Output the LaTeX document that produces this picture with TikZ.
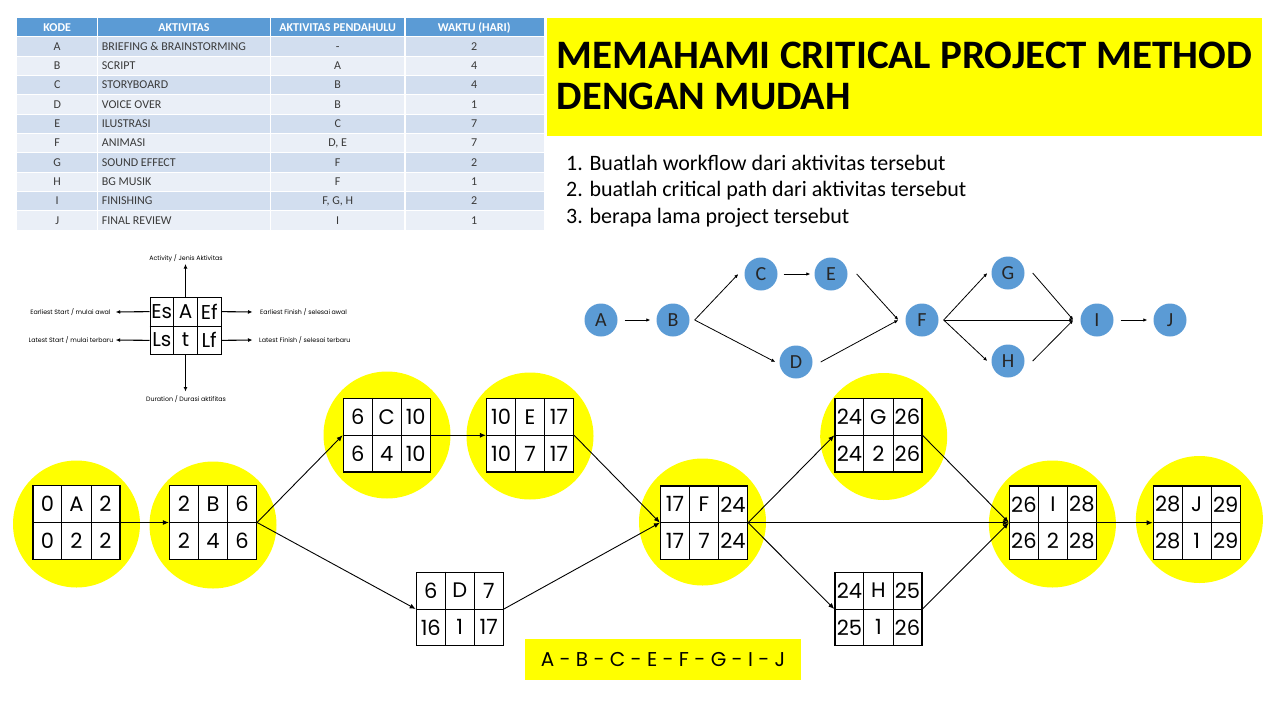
\documentclass[tikz,border=0pt]{standalone}
\usepackage{fontspec}
\setmainfont{Carlito}
\newfontfamily\pop{Poppins}
\usetikzlibrary{calc,arrows.meta}
\definecolor{hdrblue}{HTML}{5B9BD5}
\definecolor{rowa}{HTML}{D2DEEF}
\definecolor{rowb}{HTML}{EAEFF7}
\definecolor{tabtext}{HTML}{3A3A3A}
\definecolor{dotblue}{HTML}{5B9BD5}
\definecolor{hl}{HTML}{FFFF00}
\tikzset{
  yellowdot/.style={circle, fill=hl, minimum size=127pt, inner sep=0pt},
  cpmframe/.style={draw=black, fill=white, line width=1.2pt, minimum width=87pt, minimum height=73.5pt, inner sep=0pt},
  cpmgrid/.style={draw=black, line width=1pt},
  cpmtext/.style={font=\pop\fontsize{21}{21}\selectfont, inner sep=0pt},
  flow/.style={draw=black, line width=0.9pt, -{Latex[length=6pt,width=5pt]}},
  blob/.style={circle, fill=dotblue, minimum size=33pt, inner sep=0pt, font=\fontsize{20}{20}\selectfont, text=black!85},
  smallflow/.style={draw=black, line width=0.8pt, -{Latex[length=4pt,width=3.5pt]}},
  legframe/.style={draw=black, line width=1pt, minimum width=71pt, minimum height=56.5pt, inner sep=0pt},
  legtext/.style={font=\pop\fontsize{20}{20}\selectfont, inner sep=0pt},
  leglabel/.style={font=\pop\fontsize{6.3}{7}\selectfont, inner sep=0pt},
  legarrow/.style={draw=black, line width=1.1pt, -{Latex[length=4.5pt,width=4pt]}},
  tabtxt/.style={font=\fontsize{12}{13}\selectfont, text=tabtext, inner sep=0pt, anchor=base},
  tabhead/.style={font=\bfseries\fontsize{12}{13}\selectfont, text=white, inner sep=0pt, anchor=base},
  listtxt/.style={font=\fontsize{22}{24}\selectfont, inner sep=0pt, anchor=base west},
}
\newcommand\cpmbox[8]{%
  \node[cpmframe] (#1) at (#2) {};
  \draw[cpmgrid] ($(#1.north west)!1/3!(#1.north east)$) -- ($(#1.south west)!1/3!(#1.south east)$);
  \draw[cpmgrid] ($(#1.north west)!2/3!(#1.north east)$) -- ($(#1.south west)!2/3!(#1.south east)$);
  \draw[cpmgrid] (#1.west) -- (#1.east);
  \node[cpmtext] (#1-es) at ($(#1)+(-29,-18.4)$) {#3};
  \node[cpmtext] (#1-ac) at ($(#1)+(0,-18.4)$) {#4};
  \node[cpmtext] (#1-ef) at ($(#1)+(29,-18.4)$) {#5};
  \node[cpmtext] (#1-ls) at ($(#1)+(-29,18.4)$) {#6};
  \node[cpmtext] (#1-du) at ($(#1)+(0,18.4)$) {#7};
  \node[cpmtext] (#1-lf) at ($(#1)+(29,18.4)$) {#8};
}
\begin{document}
\begin{tikzpicture}[x=1pt,y=-1pt]
\useasboundingbox[fill=white] (0,0) rectangle (1280,720);

% ---------------- table ----------------
\fill[hdrblue] (17,18.3) rectangle (543.5,36.7);
\node[tabhead] (h1) at (57.2,31.5) {KODE};
\node[tabhead] (h2) at (184,31.5) {AKTIVITAS};
\node[tabhead] (h3) at (337.7,31.5) {AKTIVITAS PENDAHULU};
\node[tabhead] (h4) at (474.2,31.5) {WAKTU (HARI)};
\foreach \k/\a/\p/\w [count=\i] in {
  A/{BRIEFING \& BRAINSTORMING}/-/2,
  B/SCRIPT/A/4,
  C/STORYBOARD/B/4,
  D/VOICE OVER/B/1,
  E/ILUSTRASI/C/7,
  F/ANIMASI/{D, E}/7,
  G/SOUND EFFECT/F/2,
  H/BG MUSIK/F/1,
  I/FINISHING/{F, G, H}/2,
  J/FINAL REVIEW/I/1}{
  \pgfmathsetmacro\rtop{36.7+(\i-1)*19.33}
  \ifodd\i\relax\def\rc{rowa}\else\def\rc{rowb}\fi
  \fill[\rc] (17,\rtop) rectangle (543.5,\rtop+19.33);
  \node[tabtxt] (r\i-k) at (57.2,\rtop+13.6) {\k};
  \node[tabtxt, anchor=base west] (r\i-a) at (101.7,\rtop+13.6) {\a};
  \node[tabtxt] (r\i-p) at (337.7,\rtop+13.6) {\p};
  \node[tabtxt] (r\i-w) at (474.2,\rtop+13.6) {\w};
}
\foreach \yy in {36.7,56.03,75.36,94.69,114.02,133.35,152.68,172.01,191.34,210.67}
  \draw[white, line width=1pt] (17,\yy) -- (543.5,\yy);
\foreach \xx in {97.5,270.5,405}
  \draw[white, line width=1.3pt] (\xx,18.3) -- (\xx,230);

% ---------------- title ----------------
\fill[hl] (546.5,18) rectangle (1262,136);
\node[anchor=base west, inner sep=0pt] (title1) at (556.7,68.3) {\resizebox{695pt}{26.5pt}{\bfseries MEMAHAMI CRITICAL PROJECT METHOD}};
\node[anchor=base west, inner sep=0pt] (title2) at (556.7,109) {\resizebox{294pt}{26.5pt}{\bfseries DENGAN MUDAH}};

\node[listtxt] (q1) at (566,170) {1. Buatlah workflow dari aktivitas tersebut};
\node[listtxt] (q2) at (566,196.7) {2. buatlah critical path dari aktivitas tersebut};
\node[listtxt] (q3) at (566,223) {3. berapa lama project tersebut};

% ---------------- legend ----------------
\node[legframe] (lg) at (185.5,326) {};
\draw[cpmgrid] ($(lg.north west)!1/3!(lg.north east)$) -- ($(lg.south west)!1/3!(lg.south east)$);
\draw[cpmgrid] ($(lg.north west)!2/3!(lg.north east)$) -- ($(lg.south west)!2/3!(lg.south east)$);
\draw[cpmgrid] (lg.west) -- (lg.east);
\node[legtext] (lg-es) at ($(lg)+(-23.7,-14)$) {Es};
\node[legtext] (lg-ac) at ($(lg)+(0,-14)$) {A};
\node[legtext] (lg-ef) at ($(lg)+(23.7,-14)$) {Ef};
\node[legtext] (lg-ls) at ($(lg)+(-23.7,14)$) {Ls};
\node[legtext] (lg-du) at ($(lg)+(0,14)$) {t};
\node[legtext] (lg-lf) at ($(lg)+(23.7,14)$) {Lf};
\coordinate (lgup) at (185.5,264);
\coordinate (lgdn) at (185.5,391.5);
\coordinate (lgl1) at (115.7,312);
\coordinate (lgl2) at (115.7,340);
\coordinate (lgr1) at (252.5,312);
\coordinate (lgr2) at (252.5,340);
\draw[legarrow] (lg.north) -- (lgup);
\draw[legarrow] (lg.south) -- (lgdn);
\draw[legarrow] ($(lg.north west)!0.25!(lg.south west)$) -- (lgl1);
\draw[legarrow] ($(lg.north west)!0.75!(lg.south west)$) -- (lgl2);
\draw[legarrow] ($(lg.north east)!0.25!(lg.south east)$) -- (lgr1);
\draw[legarrow] ($(lg.north east)!0.75!(lg.south east)$) -- (lgr2);
\node[leglabel] (lab-up) at (186,258) {Activity / Jenis Aktivitas};
\node[leglabel] (lab-dn) at (186,399.5) {Duration / Durasi aktifitas};
\node[leglabel, anchor=east] (lab-l1) at (110.7,312) {Earliest Start / mulai awal};
\node[leglabel, anchor=east] (lab-l2) at (113.5,340) {Latest Start / mulai terbaru};
\node[leglabel, anchor=west] (lab-r1) at (260,312) {Earliest Finish / selesai awal};
\node[leglabel, anchor=west] (lab-r2) at (259,340) {Latest Finish / selesai terbaru};

% ---------------- top workflow ----------------
\node[blob] (nA) at (601,320) {A};
\node[blob] (nB) at (673,320) {B};
\node[blob] (nC) at (761,274) {C};
\node[blob] (nE) at (831,274) {E};
\node[blob] (nD) at (796,362) {D};
\node[blob] (nF) at (922,320) {F};
\node[blob] (nG) at (1008,273) {G};
\node[blob] (nH) at (1008,361) {H};
\node[blob] (nI) at (1097,320) {I};
\node[blob] (nJ) at (1170,320) {J};
\draw[smallflow] ([xshift=7pt]nA.east) -- ([xshift=-6pt]nB.west);
\draw[smallflow] ([xshift=5pt]nB.east) -- ([xshift=-6pt]nC.west);
\draw[smallflow] ([xshift=5pt]nB.east) -- ([xshift=-4pt]nD.west);
\draw[smallflow] ([xshift=6pt]nC.east) -- ([xshift=-4pt]nE.west);
\draw[smallflow] ([xshift=9pt]nE.east) -- ([xshift=-7pt]nF.west);
\draw[smallflow] ([xshift=8pt]nD.east) -- ([xshift=-7pt]nF.west);
\draw[smallflow] ([xshift=5pt]nF.east) -- ([xshift=-4pt]nG.west);
\draw[smallflow] ([xshift=5pt]nF.east) -- ([xshift=-4pt]nH.west);
\draw[smallflow] ([xshift=5pt]nF.east) -- ([xshift=-7pt]nI.west);
\draw[smallflow] ([xshift=8pt]nG.east) -- ([xshift=-7pt]nI.west);
\draw[smallflow] ([xshift=8pt]nH.east) -- ([xshift=-7pt]nI.west);
\draw[smallflow] ([xshift=7pt]nI.east) -- ([xshift=-6pt]nJ.west);

% ---------------- network ----------------
\node[yellowdot] (dA) at (76.5,524) {};
\node[yellowdot] (dB) at (213,525) {};
\node[yellowdot] (dC) at (387,435) {};
\node[yellowdot] (dE) at (530,436) {};
\node[yellowdot] (dF) at (702.5,522) {};
\node[yellowdot] (dG) at (883.7,436.5) {};
\node[yellowdot] (dI) at (1052.4,524) {};
\node[yellowdot] (dJ) at (1199.4,519.5) {};

\cpmbox{bA}{76.5,522.5}{0}{A}{2}{0}{2}{2}
\cpmbox{bB}{213,522.5}{2}{B}{6}{2}{4}{6}
\cpmbox{bC}{386.7,435.3}{6}{C}{10}{6}{4}{10}
\cpmbox{bE}{530,435.3}{10}{E}{17}{10}{7}{17}
\cpmbox{bD}{459.8,609}{6}{D}{7}{16}{1}{17}
\cpmbox{bF}{704,522.7}{17}{F}{24}{17}{7}{24}
\cpmbox{bG}{878.4,435.3}{24}{G}{26}{24}{2}{26}
\cpmbox{bH}{878.4,609}{24}{H}{25}{25}{1}{26}
\cpmbox{bI}{1052.9,522.7}{26}{I}{28}{26}{2}{28}
\cpmbox{bJ}{1196.8,522.7}{28}{J}{29}{28}{1}{29}

\draw[flow] (bA.east) -- (bB.west);
\draw[flow] (bB.east) -- (bC.west);
\draw[flow] (bB.east) -- (bD.west);
\draw[flow] (bC.east) -- (bE.west);
\draw[flow] (bE.east) -- (bF.west);
\draw[flow] (bD.east) -- (bF.west);
\draw[flow] (bF.east) -- (bG.west);
\draw[flow] (bF.east) -- (bH.west);
\draw[flow] (bF.east) -- (bI.west);
\draw[flow] (bG.east) -- (bI.west);
\draw[flow] (bH.east) -- (bI.west);
\draw[flow] (bI.east) -- (bJ.west);

% ---------------- critical path ----------------
\node[fill=hl, minimum width=276pt, minimum height=40.7pt, inner sep=0pt, font=\pop\fontsize{20}{20}\selectfont] (cp) at (663,659.6) {A - B - C - E - F - G - I - J};
\end{tikzpicture}
\end{document}
